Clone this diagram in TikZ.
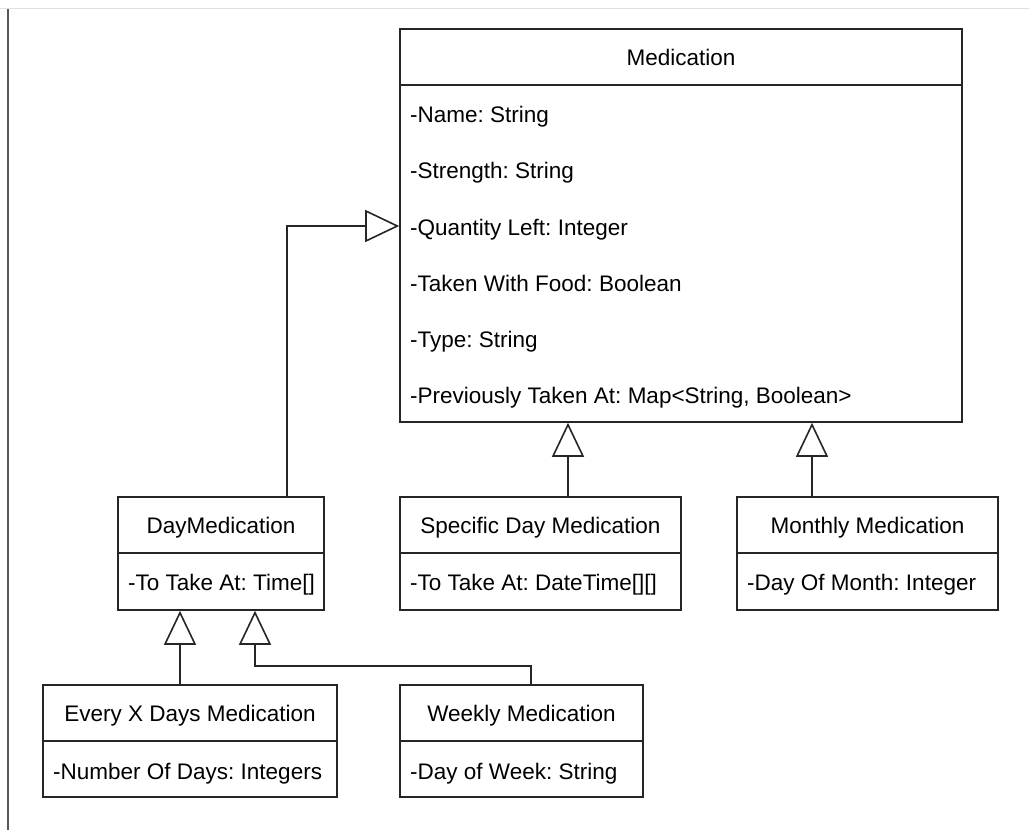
\documentclass[tikz,border=0pt]{standalone}
\usepackage{fontspec}
\setmainfont{Liberation Sans}
\usetikzlibrary{arrows.meta}
\frenchspacing

\begin{document}
\begin{tikzpicture}[x=1pt, y=-1pt,
    head/.style={draw=black!85, line width=1.6pt, inner sep=0pt, minimum height=56pt,
      text depth=0pt, font=\fontsize{22.5}{27}\selectfont},
    box/.style={draw=black!85, line width=1.6pt, inner sep=0pt},
    attr/.style={anchor=base west, inner sep=0pt, font=\fontsize{22.5}{27}\selectfont},
    inh/.style={draw=black!85, line width=1.6pt, -{Triangle[open, length=34pt, width=32pt]}}]
    \useasboundingbox[fill=white] (0,0) rectangle (1029,830);
    \draw[black!12, line width=1pt] (0,8) -- (1029,8);
    \draw[black!65, line width=1.2pt] (8,9) -- (8,830);
    % Medication
    \node[head, minimum width=562pt] (med) at (681, 57) {Medication};
    \node[box, minimum width=562pt, minimum height=337pt] (medattr) at (681, 253.5) {};
    \node[attr] (mname) at (410, 122) {-Name: String};
    \node[attr] (mstrength) at (410, 178) {-Strength: String};
    \node[attr] (mqty) at (410, 235) {-Quantity Left: Integer};
    \node[attr] (mfood) at (410, 291) {-Taken With Food: Boolean};
    \node[attr] (mtype) at (410, 347) {-Type: String};
    \node[attr] (mprev) at (410, 403) {-Previously Taken At: Map<String, Boolean>};
    % subclasses
    \node[head, minimum width=206pt] (day) at (221, 525) {DayMedication};
    \node[box, minimum width=206pt, minimum height=57pt] (dayattr) at (221, 581.5) {};
    \node[attr] (dtake) at (128, 590) {-To Take At: Time[]};
    \node[head, minimum width=281pt] (spec) at (540.5, 525) {Specific Day Medication};
    \node[box, minimum width=281pt, minimum height=57pt] (specattr) at (540.5, 581.5) {};
    \node[attr] (stake) at (410, 590) {-To Take At: DateTime[][]};
    \node[head, minimum width=261pt] (month) at (867.5, 525) {Monthly Medication};
    \node[box, minimum width=261pt, minimum height=57pt] (monthattr) at (867.5, 581.5) {};
    \node[attr] (mday) at (747, 590) {-Day Of Month: Integer};
    \node[head, minimum width=294pt] (every) at (190, 713) {Every X Days Medication};
    \node[box, minimum width=294pt, minimum height=56pt] (everyattr) at (190, 769) {};
    \node[attr] (enum) at (53, 779) {-Number Of Days: Integers};
    \node[head, minimum width=243pt] (week) at (521.5, 713) {Weekly Medication};
    \node[box, minimum width=243pt, minimum height=56pt] (weekattr) at (521.5, 769) {};
    \node[attr] (wday) at (410, 779) {-Day of Week: String};
    % inheritance
    \draw[inh] ([xshift=66pt]day.north) |- ([yshift=27.5pt]medattr.west);
    \draw[inh] ([xshift=27.5pt]spec.north) -- ([xshift=-113pt]medattr.south);
    \draw[inh] ([xshift=-55.5pt]month.north) -- ([xshift=131pt]medattr.south);
    \draw[inh] ([xshift=-10pt]every.north) -- ([xshift=-41pt]dayattr.south);
    \draw[inh] ([xshift=9.5pt]week.north) -- ++(0,-18) -| ([xshift=34pt]dayattr.south);
\end{tikzpicture}
\end{document}
